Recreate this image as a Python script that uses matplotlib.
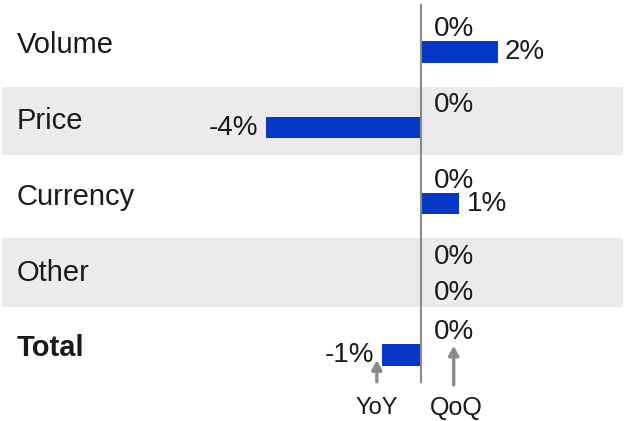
import matplotlib
matplotlib.use("Agg")
import matplotlib.pyplot as plt

plt.rcParams['font.family'] = ['Liberation Sans', 'DejaVu Sans']

categories = ["Volume", "Price", "Currency", "Other", "Total"]
qoq = [0, 0, 0, 0, 0]
yoy = [2, -4, 1, 0, -1]
shaded_rows = [1, 3]

BLUE = "#0537C6"
GREY_BAND = "#EBEBEB"
TXT = "#1A1A1A"

fig = plt.figure(figsize=(6.29, 4.21), dpi=100)
ax = fig.add_axes([0, 0, 1, 1])
ax.set_xlim(-10.9, 5.39)
ax.set_ylim(4.96, -0.597)
ax.axis('off')

for r in shaded_rows:
    ax.axhspan(r - 0.45, r + 0.45, xmin=0.003, xmax=0.990, color=GREY_BAND, zorder=0, lw=0)

qoq_off, yoy_off, bar_h = -0.21, 0.09, 0.28
ys = list(range(len(categories)))

ax.barh([y + qoq_off for y in ys], qoq, height=bar_h, color=BLUE, zorder=2)
ax.barh([y + yoy_off for y in ys], yoy, height=bar_h, color=BLUE, zorder=2)

ax.plot([0, 0], [-0.53, 4.45], color="#8A8A8A", lw=1.5, zorder=3)

for i, (cat, q, v) in enumerate(zip(categories, qoq, yoy)):
    ax.annotate(cat, xy=(ax.get_xlim()[0], i), xytext=(17, 0), textcoords='offset pixels',
                ha='left', va='center', fontsize=21, color=TXT,
                fontweight='bold' if cat == "Total" else 'normal')
    # QoQ labels
    ax.annotate(f"{q}%", xy=(q, i + qoq_off), xytext=(13, 0), textcoords='offset pixels',
                ha='left', va='center', fontsize=20, color=TXT)
    # YoY labels
    if v > 0:
        ax.annotate(f"{v}%", xy=(v, i + yoy_off), xytext=(7, 0), textcoords='offset pixels',
                    ha='left', va='center', fontsize=20, color=TXT)
    elif v < 0:
        ax.annotate(f"{v}%", xy=(v, i + yoy_off), xytext=(-8, 0), textcoords='offset pixels',
                    ha='right', va='center', fontsize=20, color=TXT)
    else:
        ax.annotate(f"{v}%", xy=(v, i + 0.27), xytext=(13, 0), textcoords='offset pixels',
                    ha='left', va='center', fontsize=20, color=TXT)

# legend arrows
arrow_kw = dict(arrowstyle='-|>,head_width=0.3,head_length=0.55', color="#8A8A8A", lw=2.4)
ax.annotate("", xy=(-1.14, 4.12), xytext=(-1.14, 4.48), arrowprops=arrow_kw)
ax.annotate("", xy=(0.85, 3.93), xytext=(0.85, 4.52), arrowprops=arrow_kw)
ax.text(-1.14, 4.79, "YoY", ha='center', va='center', fontsize=17, color=TXT)
ax.text(0.93, 4.79, "QoQ", ha='center', va='center', fontsize=18, color=TXT)

fig.savefig("out.png", dpi=100, facecolor='white')
